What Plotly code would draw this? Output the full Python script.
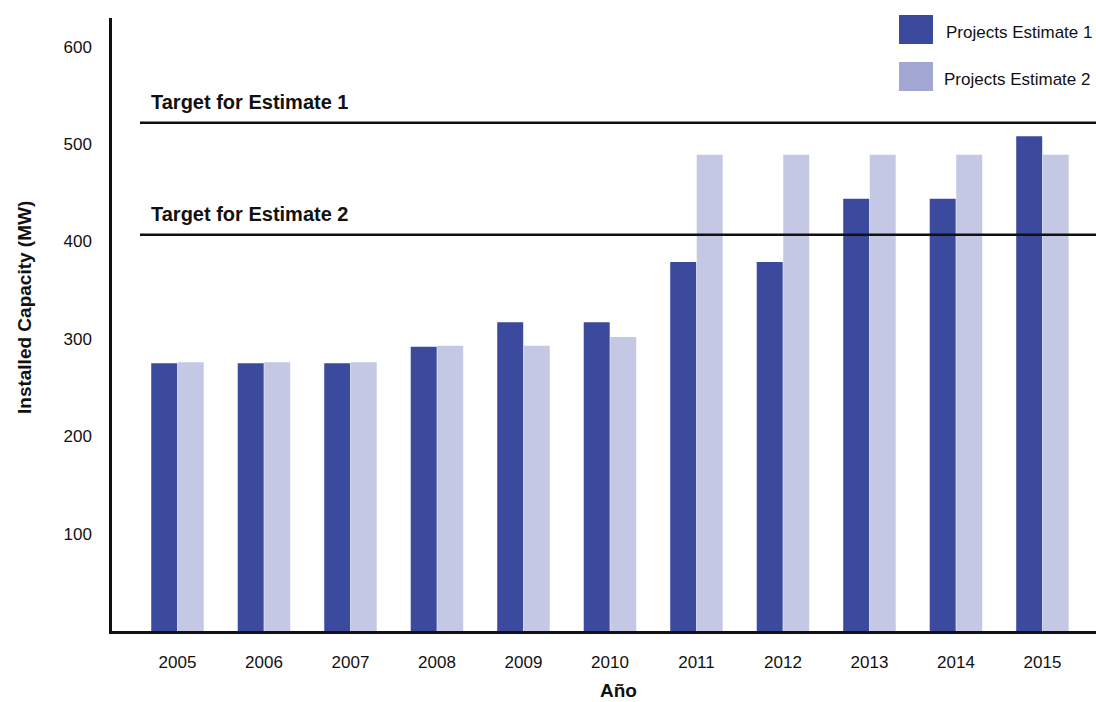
import plotly.graph_objects as go

# Installed capacity per year (MW)
years = ["2005", "2006", "2007", "2008", "2009", "2010",
         "2011", "2012", "2013", "2014", "2015"]
estimate_1 = [275, 275, 275, 292, 317, 317, 379, 379, 444, 444, 508]
estimate_2 = [276, 276, 276, 293, 293, 302, 489, 489, 489, 489, 489]

# Capacity targets (MW)
target_1 = 522
target_2 = 407

series_names = ["Projects Estimate 1", "Projects Estimate 2"]
y_ticks = [100, 200, 300, 400, 500, 600]

DARK = "#3C4A9E"
LIGHT = "#C4C8E4"
LEGEND_LIGHT = "#A2A6D2"
FONT = "Liberation Sans, Arial, sans-serif"

W, H = 1096, 702
M_L, M_R, M_T, M_B = 112, 0, 18, 71


def px_x(p):
    return (p - M_L) / (W - M_L - M_R)


def px_y(p):
    return (H - M_B - p) / (H - M_T - M_B)


fig = go.Figure()
fig.add_trace(go.Bar(x=years, y=estimate_1, name=series_names[0],
                     marker=dict(color=DARK, line=dict(width=0))))
fig.add_trace(go.Bar(x=years, y=estimate_2, name=series_names[1],
                     marker=dict(color=LIGHT, line=dict(width=0))))

# Target lines, drawn over the bars
for t in (target_1, target_2):
    fig.add_shape(type="line", xref="paper", yref="y",
                  x0=px_x(140), x1=1, y0=t, y1=t,
                  line=dict(color="#111111", width=2.5), layer="above")

annotations = [
    dict(text="Target for Estimate 1", x=px_x(149), y=target_1, xref="paper", yref="y",
         xanchor="left", yanchor="middle", yshift=21, showarrow=False,
         font=dict(family=FONT, size=20, color="#111111", weight="bold")),
    dict(text="Target for Estimate 2", x=px_x(149), y=target_2, xref="paper", yref="y",
         xanchor="left", yanchor="middle", yshift=21, showarrow=False,
         font=dict(family=FONT, size=20, color="#111111", weight="bold")),
    dict(text="Installed Capacity (MW)", x=px_x(24), y=px_y(308), xref="paper", yref="paper",
         xanchor="center", yanchor="middle", textangle=-90, showarrow=False,
         font=dict(family=FONT, size=19, color="#111111", weight="bold")),
    dict(text="Año", x=px_x(618), y=px_y(690), xref="paper", yref="paper",
         xanchor="center", yanchor="middle", showarrow=False,
         font=dict(family=FONT, size=19, color="#111111", weight="bold")),
]

# Custom legend: swatches and labels at the top right
legend_rows = [(series_names[0], DARK, 15, 44, 944, 32),
               (series_names[1], LEGEND_LIGHT, 62, 91, 942, 80)]
for name, col, top, bot, tx, ty in legend_rows:
    fig.add_shape(type="rect", xref="paper", yref="paper",
                  x0=px_x(899), x1=px_x(933), y0=px_y(bot), y1=px_y(top),
                  fillcolor=col, line=dict(width=0), layer="above")
    annotations.append(dict(text=name, x=px_x(tx), y=px_y(ty), xref="paper", yref="paper",
                            xanchor="left", yanchor="middle", showarrow=False,
                            font=dict(family=FONT, size=17, color="#111111")))

fig.update_layout(
    width=W, height=H,
    margin=dict(l=M_L, r=M_R, t=M_T, b=M_B, pad=0),
    paper_bgcolor="white", plot_bgcolor="white",
    barmode="group", bargap=0.387, bargroupgap=0.02,
    showlegend=False,
    annotations=annotations,
    font=dict(family=FONT, color="#111111"),
)

fig.update_xaxes(
    type="category", range=[-0.757, 10.619],
    showline=True, linecolor="#111111", linewidth=2.5,
    showgrid=False, zeroline=False,
    ticks="outside", ticklen=14, tickcolor="rgba(0,0,0,0)",
    tickfont=dict(family=FONT, size=17, color="#111111"),
)
fig.update_yaxes(
    range=[0, 629.5], tickvals=y_ticks,
    showline=True, linecolor="#111111", linewidth=2.5,
    showgrid=False, zeroline=False,
    ticks="outside", ticklen=14, tickcolor="rgba(0,0,0,0)",
    tickfont=dict(family=FONT, size=17, color="#111111"),
)

fig.write_html("out.html")
